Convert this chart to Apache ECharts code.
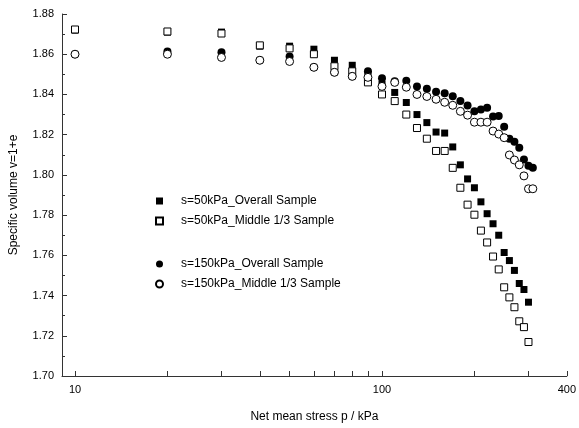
<!DOCTYPE html>
<html>
<head>
    <meta charset="utf-8" />
    <title>Specific volume</title>
    <script src="https://cdn.jsdelivr.net/npm/echarts@6/dist/echarts.min.js"></script>
    <style>
        html, body { margin: 0; padding: 0; background: #fff; }
        #main { width: 579px; height: 428px; }
    </style>
</head>
<body>
    <div id="main"></div>
    <script type="text/javascript">
        // net mean stress p (kPa), same steps for all four tests
        var pressure = [10, 20, 30, 40, 50, 60, 70, 80, 90, 100, 110, 120, 130, 140, 150, 160,
            170, 180, 190, 200, 210, 220, 230, 240, 250, 260, 270, 280, 290, 300, 310];
        // specific volume v = 1+e
        var s50Overall = [1.872, 1.871, 1.871, 1.864, 1.864, 1.8625, 1.857, 1.8545, 1.850, 1.845,
            1.841, 1.836, 1.830, 1.826, 1.8213, 1.8208, 1.8139, 1.805, 1.798, 1.7936,
            1.7866, 1.7807, 1.7757, 1.770, 1.7614, 1.7574, 1.7525, 1.746, 1.743, 1.7367, null];
        var s50Middle = [1.8723, 1.8713, 1.8703, 1.8644, 1.8629, 1.860, 1.854, 1.8515, 1.846, 1.840,
            1.8367, 1.830, 1.8233, 1.818, 1.8119, 1.8119, 1.8035, 1.7936, 1.7852, 1.7802,
            1.7723, 1.7664, 1.7594, 1.753, 1.7441, 1.7391, 1.7342, 1.7272, 1.7243, 1.7169, null];
        var s150Overall = [1.860, 1.8614, 1.861, 1.857, 1.8589, 1.8535, 1.851, 1.849, 1.8515, 1.848,
            1.8465, 1.8468, 1.844, 1.8428, 1.8413, 1.8406, 1.8391, 1.8368, 1.8345, 1.8316,
            1.8325, 1.8334, 1.829, 1.8293, 1.8239, 1.818, 1.8165, 1.8135, 1.8076, 1.8045, 1.8035];
        var s150Middle = [1.860, 1.860, 1.8584, 1.857, 1.8564, 1.8535, 1.851, 1.849, 1.8485, 1.844,
            1.846, 1.8436, 1.840, 1.839, 1.8376, 1.8361, 1.8346, 1.8316, 1.8297, 1.8262,
            1.8262, 1.8262, 1.8218, 1.8203, 1.8185, 1.8099, 1.8074, 1.805, 1.7995, 1.7931, 1.7931];
        var seriesNames = ['s=50kPa_Overall Sample', 's=50kPa_Middle 1/3 Sample',
            's=150kPa_Overall Sample', 's=150kPa_Middle 1/3 Sample'];
        var xLabelValues = [10, 100, 400];
        var xTickValues = [10, 20, 30, 40, 50, 60, 70, 80, 90, 100, 200, 300, 400];

        function pairs(ys) {
            var out = [];
            for (var i = 0; i < pressure.length; i++) {
                if (ys[i] != null) out.push([pressure[i], ys[i]]);
            }
            return out;
        }

        var font = 'Liberation Sans, Arial, sans-serif';
        var axisColor = '#333';
        // text padding pushes the label away from the small marker, like the original key
        var legendText = { fontSize: 12, color: '#000', fontFamily: font, padding: [0, 0, 0, 13] };

        var myChart = echarts.init(document.getElementById('main'));
        var option = {
            animation: false,
            textStyle: { fontFamily: font },
            grid: { left: 61, right: 10, top: 14, bottom: 51 },
            legend: [{
                data: [seriesNames[0], seriesNames[1]],
                orient: 'vertical',
                left: 150,
                top: 190,
                itemWidth: 7,
                itemHeight: 7,
                itemGap: 8,
                textStyle: legendText
            }, {
                data: [seriesNames[2], seriesNames[3]],
                orient: 'vertical',
                left: 150,
                top: 253,
                itemWidth: 7,
                itemHeight: 7,
                itemGap: 8,
                textStyle: legendText
            }],
            xAxis: {
                type: 'log',
                logBase: 10,
                min: 9.07,
                max: 400,
                name: 'Net mean stress p / kPa',
                nameLocation: 'middle',
                nameGap: 35,
                nameTextStyle: { fontSize: 12, color: '#000' },
                axisLine: { lineStyle: { color: axisColor, width: 1 } },
                axisTick: { inside: true, length: 5, customValues: xTickValues },
                axisLabel: {
                    customValues: xLabelValues,
                    color: '#000', fontSize: 11, margin: 8,
                    formatter: function (v) { return Math.round(v); }
                },
                splitLine: { show: false }
            },
            yAxis: {
                type: 'value',
                min: 1.70,
                max: 1.88,
                interval: 0.02,
                name: 'Specific volume v=1+e',
                nameLocation: 'middle',
                nameGap: 42,
                nameTextStyle: { fontSize: 12, color: '#000' },
                axisLine: { show: true, lineStyle: { color: axisColor, width: 1 } },
                axisTick: { show: true, inside: true, length: 5 },
                minorTick: { show: true, splitNumber: 2, length: 3, lineStyle: { color: axisColor } },
                axisLabel: {
                    color: '#000', fontSize: 11, margin: 8,
                    formatter: function (v) { return v.toFixed(2); }
                },
                splitLine: { show: false }
            },
            series: [{
                name: seriesNames[0],
                type: 'scatter',
                symbol: 'rect',
                symbolSize: 7,
                itemStyle: { color: '#000', opacity: 1 },
                data: pairs(s50Overall)
            }, {
                name: seriesNames[1],
                type: 'scatter',
                symbol: 'rect',
                symbolSize: 7,
                itemStyle: { color: '#fff', borderColor: '#000', borderWidth: 1, opacity: 1 },
                data: pairs(s50Middle)
            }, {
                name: seriesNames[2],
                type: 'scatter',
                symbol: 'circle',
                symbolSize: 8,
                itemStyle: { color: '#000', opacity: 1 },
                data: pairs(s150Overall)
            }, {
                name: seriesNames[3],
                type: 'scatter',
                symbol: 'circle',
                symbolSize: 8,
                itemStyle: { color: '#fff', borderColor: '#000', borderWidth: 1, opacity: 1 },
                data: pairs(s150Middle)
            }]
        };
        myChart.setOption(option);
    </script>
</body>
</html>
